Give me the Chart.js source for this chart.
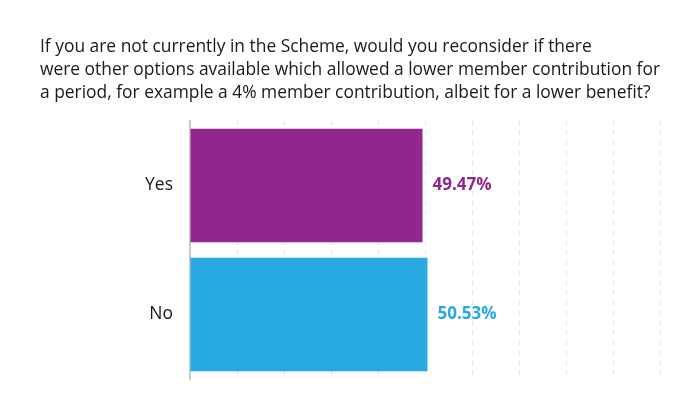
<!DOCTYPE html>
<html>
<head>
<meta charset="utf-8">
<script src="https://cdn.jsdelivr.net/npm/chart.js@4.4.0/dist/chart.umd.min.js"></script>
<style>
  html, body { margin: 0; padding: 0; background: #fff; }
  #wrap { width: 700px; height: 420px; }
</style>
</head>
<body>
<div id="wrap"><canvas id="chart"></canvas></div>
<script>
const titleLines = [
  "If you are not currently in the Scheme, would you reconsider if there",
  "were other options available which allowed a lower member contribution for",
  "a period, for example a 4% member contribution, albeit for a lower benefit?"
];
const categories = ["Yes", "No"];
const values = [49.47, 50.53];
const barColors = ["#90278c", "#29a9e1"];

// draws the percentage next to each bar
const valueLabels = {
  id: "valueLabels",
  afterDatasetsDraw(chart) {
    const ctx = chart.ctx;
    const meta = chart.getDatasetMeta(0);
    ctx.save();
    ctx.font = "bold 17px 'Open Sans'";
    ctx.textAlign = "left";
    ctx.textBaseline = "middle";
    meta.data.forEach((bar, i) => {
      ctx.fillStyle = barColors[i];
      ctx.fillText(values[i].toFixed(2) + "%", bar.x + 10, bar.y);
    });
    ctx.restore();
  }
};

new Chart(document.getElementById("chart"), {
  type: "bar",
  data: {
    labels: categories,
    datasets: [{
      data: values,
      backgroundColor: barColors,
      borderWidth: 0,
      barPercentage: 0.88,
      categoryPercentage: 1
    }]
  },
  options: {
    indexAxis: "y",
    responsive: true,
    maintainAspectRatio: false,
    animation: false,
    layout: { padding: { left: 40, right: 40, bottom: 41 } },
    plugins: {
      legend: { display: false },
      tooltip: { enabled: false },
      title: {
        display: true,
        text: titleLines,
        align: "start",
        color: "#1a1a1a",
        font: { family: "'Open Sans'", size: 17.4, weight: "normal", lineHeight: 1.32 },
        padding: { top: 36, bottom: 16 }
      }
    },
    scales: {
      x: {
        min: 0,
        max: 100,
        ticks: { display: false, stepSize: 10 },
        grid: { color: "#e3e3e3", lineWidth: 1, drawTicks: false },
        border: { display: false, dash: [4, 6] }
      },
      y: {
        afterFit(scale) { scale.width = 150; },
        ticks: { color: "#1a1a1a", padding: 17, font: { family: "'Open Sans'", size: 17.5 } },
        grid: { display: false, drawTicks: false },
        border: { display: true, color: "#c8c8c8", width: 2 }
      }
    }
  },
  plugins: [valueLabels]
});
</script>
</body>
</html>
